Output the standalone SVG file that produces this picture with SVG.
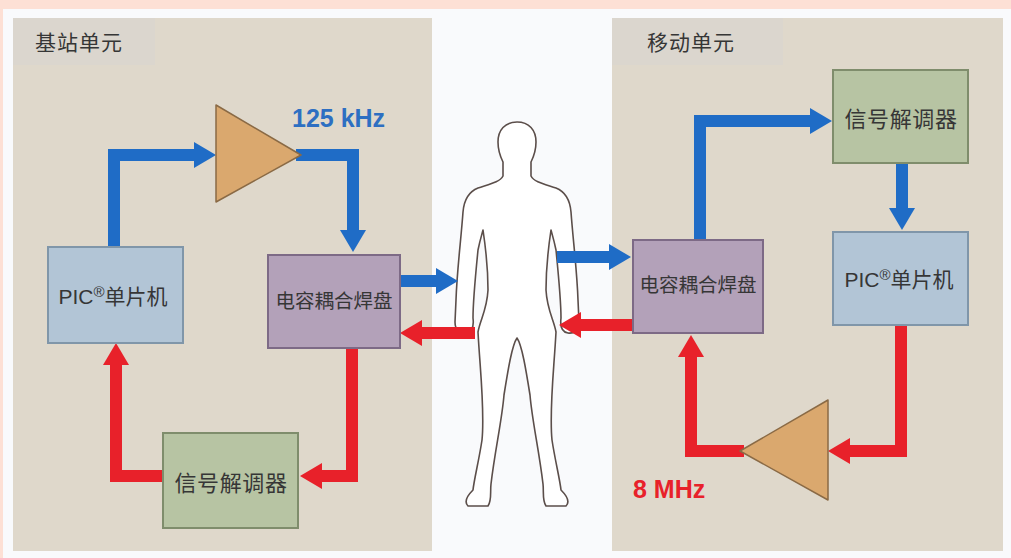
<svg xmlns="http://www.w3.org/2000/svg" width="1011" height="558" viewBox="0 0 1011 558">
  <style>
    .panel { fill: #dfd8cb; }
    .tag { fill: #dbd6ce; }
    .box-pic { fill: #b2c5d6; stroke: #8096a9; stroke-width: 2; }
    .box-pad { fill: #b3a1b9; stroke: #7d6a86; stroke-width: 2; }
    .box-dem { fill: #b7c4a3; stroke: #7f8d6c; stroke-width: 2; }
    .amp { fill: #daa86e; stroke: #8a6a45; stroke-width: 1.5; stroke-linejoin: round; }
    .lbl { font-family: "Liberation Sans", "Noto Sans CJK SC", sans-serif; fill: #363636; }
    .freq { font-family: "Liberation Sans", Arial, sans-serif; font-weight: bold; font-size: 25px; }
    .blue { fill: none; stroke: #1f6cc6; stroke-width: 12; stroke-linejoin: miter; }
    .red { fill: none; stroke: #e8212a; stroke-width: 12; stroke-linejoin: miter; }
    .body { fill: #ffffff; stroke: #5b4e4a; stroke-width: 1.6; stroke-linejoin: round; }
  </style>
  <defs>
    <marker id="headBlue" markerUnits="userSpaceOnUse" viewBox="0 0 22 26" refX="0" refY="13" markerWidth="22" markerHeight="26" orient="auto">
      <path d="M0,0 L22,13 L0,26 Z" fill="#1f6cc6"/>
    </marker>
    <marker id="headRed" markerUnits="userSpaceOnUse" viewBox="0 0 22 26" refX="0" refY="13" markerWidth="22" markerHeight="26" orient="auto">
      <path d="M0,0 L22,13 L0,26 Z" fill="#e8212a"/>
    </marker>
  </defs>

  <!-- page background with tinted border -->
  <rect x="0" y="0" width="1011" height="558" fill="#fde0d5"/>
  <rect x="3" y="9" width="1008" height="549" fill="#f9fafc"/>

  <!-- base station panel -->
  <g id="base-unit">
    <rect class="panel" x="13" y="18" width="419" height="533"/>
    <rect class="tag" x="13" y="18" width="142" height="47"/>
    <text class="lbl" x="35" y="50" font-size="21" letter-spacing="1">基站单元</text>
  </g>

  <!-- mobile panel -->
  <g id="mobile-unit">
    <rect class="panel" x="612" y="18" width="391" height="533"/>
    <rect class="tag" x="612" y="18" width="171" height="47"/>
    <text class="lbl" x="647" y="50" font-size="21" letter-spacing="1">移动单元</text>
  </g>

  <!-- human body outline -->
  <g id="body">
    <path class="body" d="M517 122 C505 122,498 130,498 142 C498 152,501 158,503 162 L503 176 C500 182,490 184,478 188 C468 192,464 200,463 212 C461 240,457 270,456 300 L455 322 C455 330,460 334,466 333 C472 332,474 326,473 318 C473 300,476 270,478 250 C480 240,482 234,483 230 C486 250,488 270,488 290 C487 310,480 320,478 332 C480 370,485 410,482 440 C479 460,474 480,473 490 C467 496,464 502,468 506 L488 506 C492 500,490 492,491 484 C495 450,502 420,504 395 C508 370,512 345,517 338 C522 345,526 370,530 395 C532 420,539 450,543 484 C544 492,542 500,546 506 L566 506 C570 502,567 496,561 490 C560 480,555 460,552 440 C549 410,554 370,556 332 C554 320,547 310,546 290 C546 270,548 250,551 230 C552 234,554 240,556 250 C558 270,561 300,561 318 C560 326,562 332,568 333 C574 334,579 330,579 322 L578 300 C577 270,573 240,571 212 C570 200,566 192,556 188 C544 184,534 182,531 176 L531 162 C533 158,536 152,536 142 C536 130,529 122,517 122 Z"/>
  </g>

  <!-- connectors -->
  <g id="connectors">
    <!-- base station: transmit loop -->
    <path class="blue" d="M114 247 L114 155 L194 155" marker-end="url(#headBlue)"/>
    <path class="blue" d="M296 155 L353 155 L353 230" marker-end="url(#headBlue)"/>
    <path class="blue" d="M400 281 L436 281" marker-end="url(#headBlue)"/>
    <!-- base station: receive loop -->
    <path class="red" d="M475 333 L422 333" marker-end="url(#headRed)"/>
    <path class="red" d="M352 348 L352 476 L322 476" marker-end="url(#headRed)"/>
    <path class="red" d="M163 476 L116 476 L116 365" marker-end="url(#headRed)"/>
    <!-- mobile: receive path -->
    <path class="blue" d="M557 257 L609 257" marker-end="url(#headBlue)"/>
    <path class="blue" d="M700 240 L700 121 L810 121" marker-end="url(#headBlue)"/>
    <path class="blue" d="M902 163 L902 208" marker-end="url(#headBlue)"/>
    <!-- mobile: transmit path -->
    <path class="red" d="M901 325 L901 451 L850 451" marker-end="url(#headRed)"/>
    <path class="red" d="M744 451 L691 451 L691 357" marker-end="url(#headRed)"/>
    <path class="red" d="M633 325 L581 325" marker-end="url(#headRed)"/>
  </g>

  <!-- base station blocks -->
  <g id="base-amp">
    <polygon class="amp" points="216,105 301,155 216,202"/>
  </g>
  <text id="freq-125khz" class="freq" x="292" y="127" fill="#2d6fc2">125 kHz</text>

  <g id="base-pic">
    <rect class="box-pic" x="48" y="247" width="135" height="96"/>
    <text class="lbl" x="113" y="304" font-size="21" text-anchor="middle">PIC<tspan font-size="15" dy="-7">®</tspan><tspan dy="7">单片机</tspan></text>
  </g>
  <g id="base-pad">
    <rect class="box-pad" x="268" y="255" width="132" height="93"/>
    <text class="lbl" x="334" y="308" font-size="19.5" text-anchor="middle">电容耦合焊盘</text>
  </g>
  <g id="base-demod">
    <rect class="box-dem" x="163" y="433" width="135" height="95"/>
    <text class="lbl" x="231" y="491" font-size="22" letter-spacing="0.6" text-anchor="middle">信号解调器</text>
  </g>

  <!-- mobile blocks -->
  <g id="mobile-demod">
    <rect class="box-dem" x="833" y="70" width="135" height="93"/>
    <text class="lbl" x="901" y="127" font-size="22" letter-spacing="0.6" text-anchor="middle">信号解调器</text>
  </g>
  <g id="mobile-pic">
    <rect class="box-pic" x="833" y="232" width="135" height="93"/>
    <text class="lbl" x="899" y="287" font-size="21" text-anchor="middle">PIC<tspan font-size="15" dy="-7">®</tspan><tspan dy="7">单片机</tspan></text>
  </g>
  <g id="mobile-pad">
    <rect class="box-pad" x="633" y="240" width="130" height="93"/>
    <text class="lbl" x="698" y="292" font-size="19.5" text-anchor="middle">电容耦合焊盘</text>
  </g>
  <g id="mobile-amp">
    <polygon class="amp" points="828,400 740,451 828,500"/>
  </g>
  <text id="freq-8mhz" class="freq" x="633" y="498" fill="#e8212a">8 MHz</text>
</svg>
